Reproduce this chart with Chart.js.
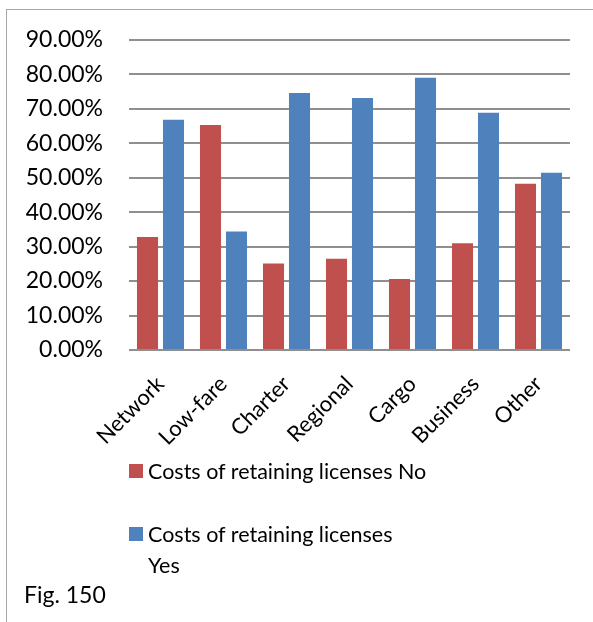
<!DOCTYPE html>
<html>
<head>
<meta charset="utf-8">
<script src="https://cdn.jsdelivr.net/npm/chart.js@4.4.0/dist/chart.umd.min.js"></script>
<style>
  html, body { margin: 0; padding: 0; background: #fff; }
  body { width: 593px; height: 622px; position: relative; overflow: hidden; font-family: Lato, "Open Sans", sans-serif; color: #000; }
  #frame { position: absolute; left: 6px; top: 9px; width: 700px; height: 700px; border: 1px solid #a6a6a6; }
  #chartBox { position: absolute; left: 0; top: 0; width: 593px; height: 622px; }
  #legend { position: absolute; left: 129px; top: 456px; }
  .item { position: relative; padding-left: 19px; font-size: 21.5px; line-height: 31px; margin-bottom: 32px; }
  .item .box { position: absolute; left: 0; top: 8px; width: 14px; height: 14px; }
  .probe { position: absolute; visibility: hidden; white-space: nowrap; font-size: 21.5px; }
  #fig { position: absolute; left: 24px; top: 580px; font-size: 23px; }
</style>
</head>
<body>
<div id="frame"></div>
<div id="chartBox"><canvas id="chart" width="593" height="622"></canvas></div>
<div id="legend"></div>
<div id="fig">Fig. 150</div>
<script>
// airline types and share of answers (%)
const categories = ['Network', 'Low-fare', 'Charter', 'Regional', 'Cargo', 'Business', 'Other'];
const costsNo = [32.8, 65.3, 25.1, 26.5, 20.6, 31.0, 48.2];
const costsYes = [66.8, 34.4, 74.6, 73.1, 79.0, 68.8, 51.4];
const seriesNames = ['Costs of retaining licenses No', 'Costs of retaining licenses Yes'];
const seriesColors = ['#C0504D', '#4F81BD'];

const tickFont = { family: 'Lato', size: 23 };

const chart = new Chart(document.getElementById('chart'), {
    type: 'bar',
    data: {
        labels: categories,
        datasets: [{
            label: seriesNames[0],
            data: costsNo,
            backgroundColor: seriesColors[0],
            barPercentage: 0.81,
            categoryPercentage: 0.825
        }, {
            label: seriesNames[1],
            data: costsYes,
            backgroundColor: seriesColors[1],
            barPercentage: 0.81,
            categoryPercentage: 0.825
        }]
    },
    options: {
        responsive: false,
        animation: false,
        layout: { padding: { top: 39, right: 23, left: 0, bottom: 0 } },
        plugins: {
            legend: { display: false },
            tooltip: { enabled: false }
        },
        scales: {
            x: {
                grid: { display: false },
                border: { display: false },
                ticks: {
                    color: '#000',
                    font: { family: 'Lato', size: 22 },
                    maxRotation: 45,
                    minRotation: 45,
                    padding: 13
                },
                afterFit: (scale) => { scale.height = 272; }
            },
            y: {
                min: 0,
                max: 90,
                border: { display: false },
                grid: { color: '#8f8f8f', lineWidth: 2, drawTicks: false },
                ticks: {
                    stepSize: 10,
                    color: '#000',
                    font: tickFont,
                    padding: 26,
                    callback: (v) => v.toFixed(2) + '%'
                },
                afterFit: (scale) => { scale.width = 129; }
            }
        }
    }
});

// legend below the plot, wrapped to the width of the first entry
const legendEl = document.getElementById('legend');
const probe = document.createElement('span');
probe.className = 'probe';
probe.textContent = seriesNames[0];
document.body.appendChild(probe);
const wrapWidth = Math.ceil(probe.getBoundingClientRect().width) + 1;
probe.remove();
chart.data.datasets.forEach((ds) => {
    const item = document.createElement('div');
    item.className = 'item';
    item.style.width = wrapWidth + 'px';
    const box = document.createElement('span');
    box.className = 'box';
    box.style.background = ds.backgroundColor;
    item.appendChild(box);
    item.appendChild(document.createTextNode(ds.label));
    legendEl.appendChild(item);
});
</script>
</body>
</html>
